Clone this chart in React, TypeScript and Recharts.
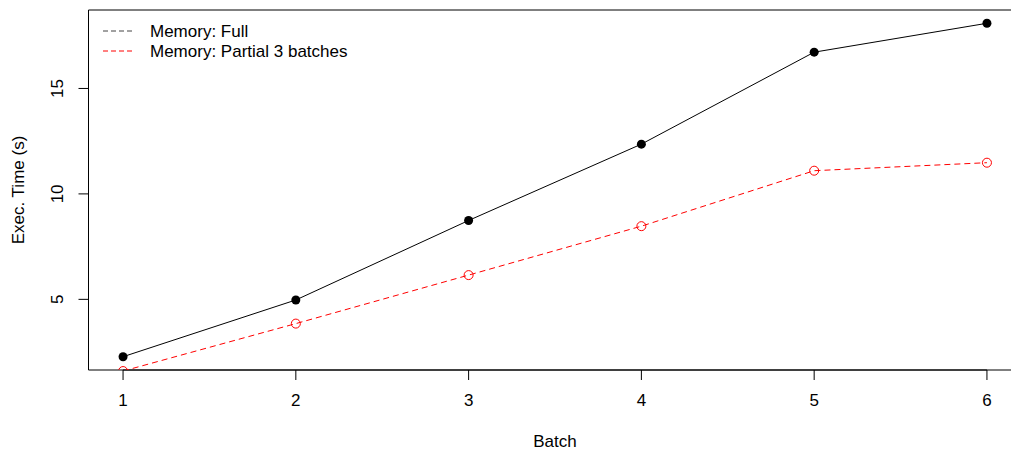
import {
  LineChart,
  Line,
  XAxis,
  YAxis,
  ReferenceArea,
  ReferenceLine,
} from "recharts";

const batches = [1, 2, 3, 4, 5, 6];
const fullMemory = [2.28, 4.97, 8.74, 12.36, 16.72, 18.09];
const partialMemory = [1.6, 3.85, 6.15, 8.47, 11.1, 11.48];
const yTicks = [5, 10, 15];
const seriesNames = ["Memory: Full", "Memory: Partial 3 batches"];

const X_DOMAIN = [0.8, 6.2];
const Y_DOMAIN = [1.65, 18.72];
const FONT = "'Liberation Sans', Arial, sans-serif";
const FS = 17;

const data = batches.map((b, i) => ({
  batch: b,
  full: fullMemory[i],
  partial: partialMemory[i],
}));

// rotated y tick labels, reading bottom to top like base R
const YTick = ({ y, payload }) => (
  <text
    x={63}
    y={y}
    transform={`rotate(-90, 63, ${y})`}
    textAnchor="middle"
    fontSize={FS}
    fontFamily={FONT}
    fill="#000"
  >
    {payload.value}
  </text>
);

const YTitle = () => (
  <text
    x={24}
    y={190}
    transform="rotate(-90, 24, 190)"
    textAnchor="middle"
    fontSize={FS}
    fontFamily={FONT}
    fill="#000"
  >
    Exec. Time (s)
  </text>
);

const LegendBox = () => (
  <svg
    width={280}
    height={60}
    style={{ position: "absolute", left: 88, top: 10, display: "block" }}
  >
    <line x1={15} x2={45} y1={21} y2={21} stroke="#444" strokeDasharray="5 3" />
    <line x1={15} x2={45} y1={41} y2={41} stroke="#ff0000" strokeDasharray="5 3" />
    <text x={62} y={27} fontSize={FS} fontFamily={FONT} fill="#000">
      {seriesNames[0]}
    </text>
    <text x={62} y={47} fontSize={FS} fontFamily={FONT} fill="#000">
      {seriesNames[1]}
    </text>
  </svg>
);

export default function App() {
  return (
    <div
      style={{
        position: "fixed",
        left: 0,
        top: 0,
        width: 1011,
        height: 450,
        overflow: "hidden",
        background: "#fff",
      }}
    >
      <LineChart
        width={1030}
        height={450}
        data={data}
        margin={{ top: 10, right: 8.5, bottom: 0, left: 0 }}
      >
        <XAxis
          dataKey="batch"
          type="number"
          domain={X_DOMAIN}
          ticks={batches}
          axisLine={false}
          tickLine={{ stroke: "#000" }}
          tickSize={10}
          tickMargin={14}
          height={80}
          tick={{ fontSize: FS, fontFamily: FONT, fill: "#000" }}
          label={{
            value: "Batch",
            position: "insideBottom",
            offset: 3,
            fontSize: FS,
            fontFamily: FONT,
            fill: "#000",
          }}
        />
        <YAxis
          type="number"
          domain={Y_DOMAIN}
          ticks={yTicks}
          allowDataOverflow
          axisLine={false}
          tickLine={{ stroke: "#000" }}
          tickSize={10}
          width={88.5}
          tick={<YTick />}
          label={<YTitle />}
        />
        <ReferenceArea
          x1={X_DOMAIN[0]}
          x2={X_DOMAIN[1]}
          y1={Y_DOMAIN[0]}
          y2={Y_DOMAIN[1]}
          fill="none"
          stroke="#000"
        />
        <ReferenceLine
          segment={[
            { x: 1, y: Y_DOMAIN[0] },
            { x: 6, y: Y_DOMAIN[0] },
          ]}
          stroke="#000"
        />
        <ReferenceLine
          segment={[
            { x: X_DOMAIN[0], y: 5 },
            { x: X_DOMAIN[0], y: 15 },
          ]}
          stroke="#000"
        />
        <Line
          dataKey="full"
          name={seriesNames[0]}
          stroke="#000"
          strokeWidth={1}
          dot={{ r: 4.5, fill: "#000", stroke: "#000", strokeWidth: 0 }}
          isAnimationActive={false}
        />
        <Line
          dataKey="partial"
          name={seriesNames[1]}
          stroke="#ff0000"
          strokeWidth={1}
          strokeDasharray="6 4"
          dot={{
            r: 4.5,
            fill: "none",
            stroke: "#ff0000",
            strokeWidth: 1,
            strokeDasharray: "none",
          }}
          isAnimationActive={false}
        />
      </LineChart>
      <LegendBox />
    </div>
  );
}
